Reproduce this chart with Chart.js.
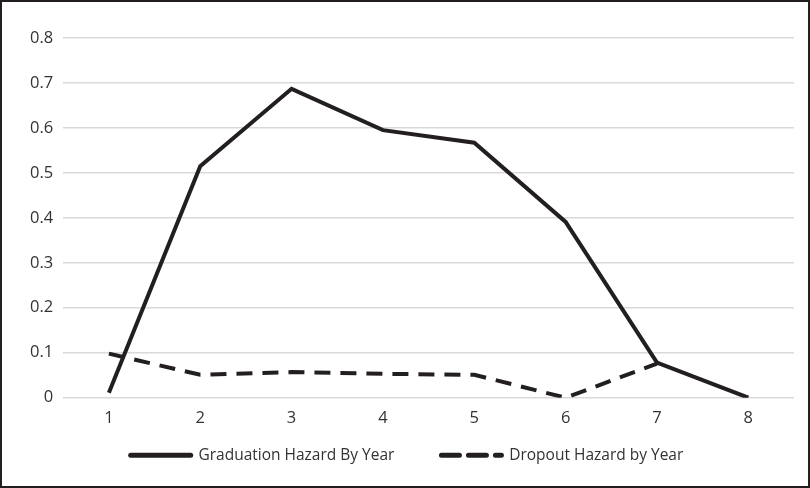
<!DOCTYPE html>
<html>
<head>
<meta charset="utf-8">
<script src="https://cdn.jsdelivr.net/npm/chart.js@4"></script>
<style>
  html, body { margin: 0; padding: 0; background: #fff; }
  #wrap { position: relative; width: 806px; height: 484px; border: 2px solid #231f20; }
</style>
</head>
<body>
<div id="wrap"><canvas id="chart"></canvas></div>
<script>
const years = ['1', '2', '3', '4', '5', '6', '7', '8'];
const graduationHazard = [0.011, 0.515, 0.687, 0.595, 0.567, 0.391, 0.078, 0.0];
const dropoutHazard = [0.098, 0.051, 0.057, 0.053, 0.051, 0.0, 0.076, null];
const yTicks = [0, 0.1, 0.2, 0.3, 0.4, 0.5, 0.6, 0.7, 0.8];

const ink = '#231f20';
const textColor = '#333333';
const fontFamily = 'Open Sans';

new Chart(document.getElementById('chart'), {
    type: 'line',
    data: {
        labels: years,
        datasets: [
            {
                label: 'Graduation Hazard By Year',
                data: graduationHazard,
                borderColor: ink,
                backgroundColor: ink,
                borderWidth: 4,
                pointRadius: 0,
                tension: 0
            },
            {
                label: 'Dropout Hazard by Year',
                data: dropoutHazard,
                borderColor: ink,
                backgroundColor: ink,
                borderWidth: 4,
                borderDash: [16, 10],
                pointRadius: 0,
                tension: 0
            }
        ]
    },
    options: {
        responsive: true,
        maintainAspectRatio: false,
        animation: false,
        layout: { padding: { left: 18, right: 14, top: 36, bottom: 13 } },
        plugins: {
            tooltip: { enabled: false },
            legend: {
                position: 'bottom',
                labels: {
                    color: textColor,
                    font: { family: fontFamily, size: 15.5 },
                    usePointStyle: true,
                    pointStyle: 'line',
                    pointStyleWidth: 60,
                    boxHeight: 4,
                    padding: 16,
                    // point style legend loses the dataset dash, put it back;
                    // padding is shared with vertical spacing so widen the gap with spaces
                    generateLabels: chart => {
                        const items = Chart.defaults.plugins.legend.labels.generateLabels(chart);
                        items.forEach((item, i) => {
                            const ds = chart.data.datasets[item.datasetIndex];
                            item.lineDash = ds.borderDash ? [18, 9] : [];
                            item.lineWidth = 5;
                            item.lineCap = 'round';
                            item.strokeStyle = ink;
                            if (i < items.length - 1) item.text += '\u2003\u2003';
                        });
                        return items;
                    }
                }
            }
        },
        scales: {
            x: {
                offset: true,
                grid: { display: false },
                border: { display: false },
                ticks: { color: textColor, font: { family: fontFamily, size: 16.5 }, padding: 3 }
            },
            y: {
                min: 0,
                max: 0.8,
                afterBuildTicks: axis => { axis.ticks = yTicks.map(v => ({ value: v })); },
                grid: { color: '#d9d9d9', lineWidth: 1.5, drawTicks: false },
                border: { display: false },
                ticks: {
                    color: textColor,
                    font: { family: fontFamily, size: 16.5 },
                    padding: 10,
                    callback: v => String(v)
                }
            }
        }
    }
});
</script>
</body>
</html>
